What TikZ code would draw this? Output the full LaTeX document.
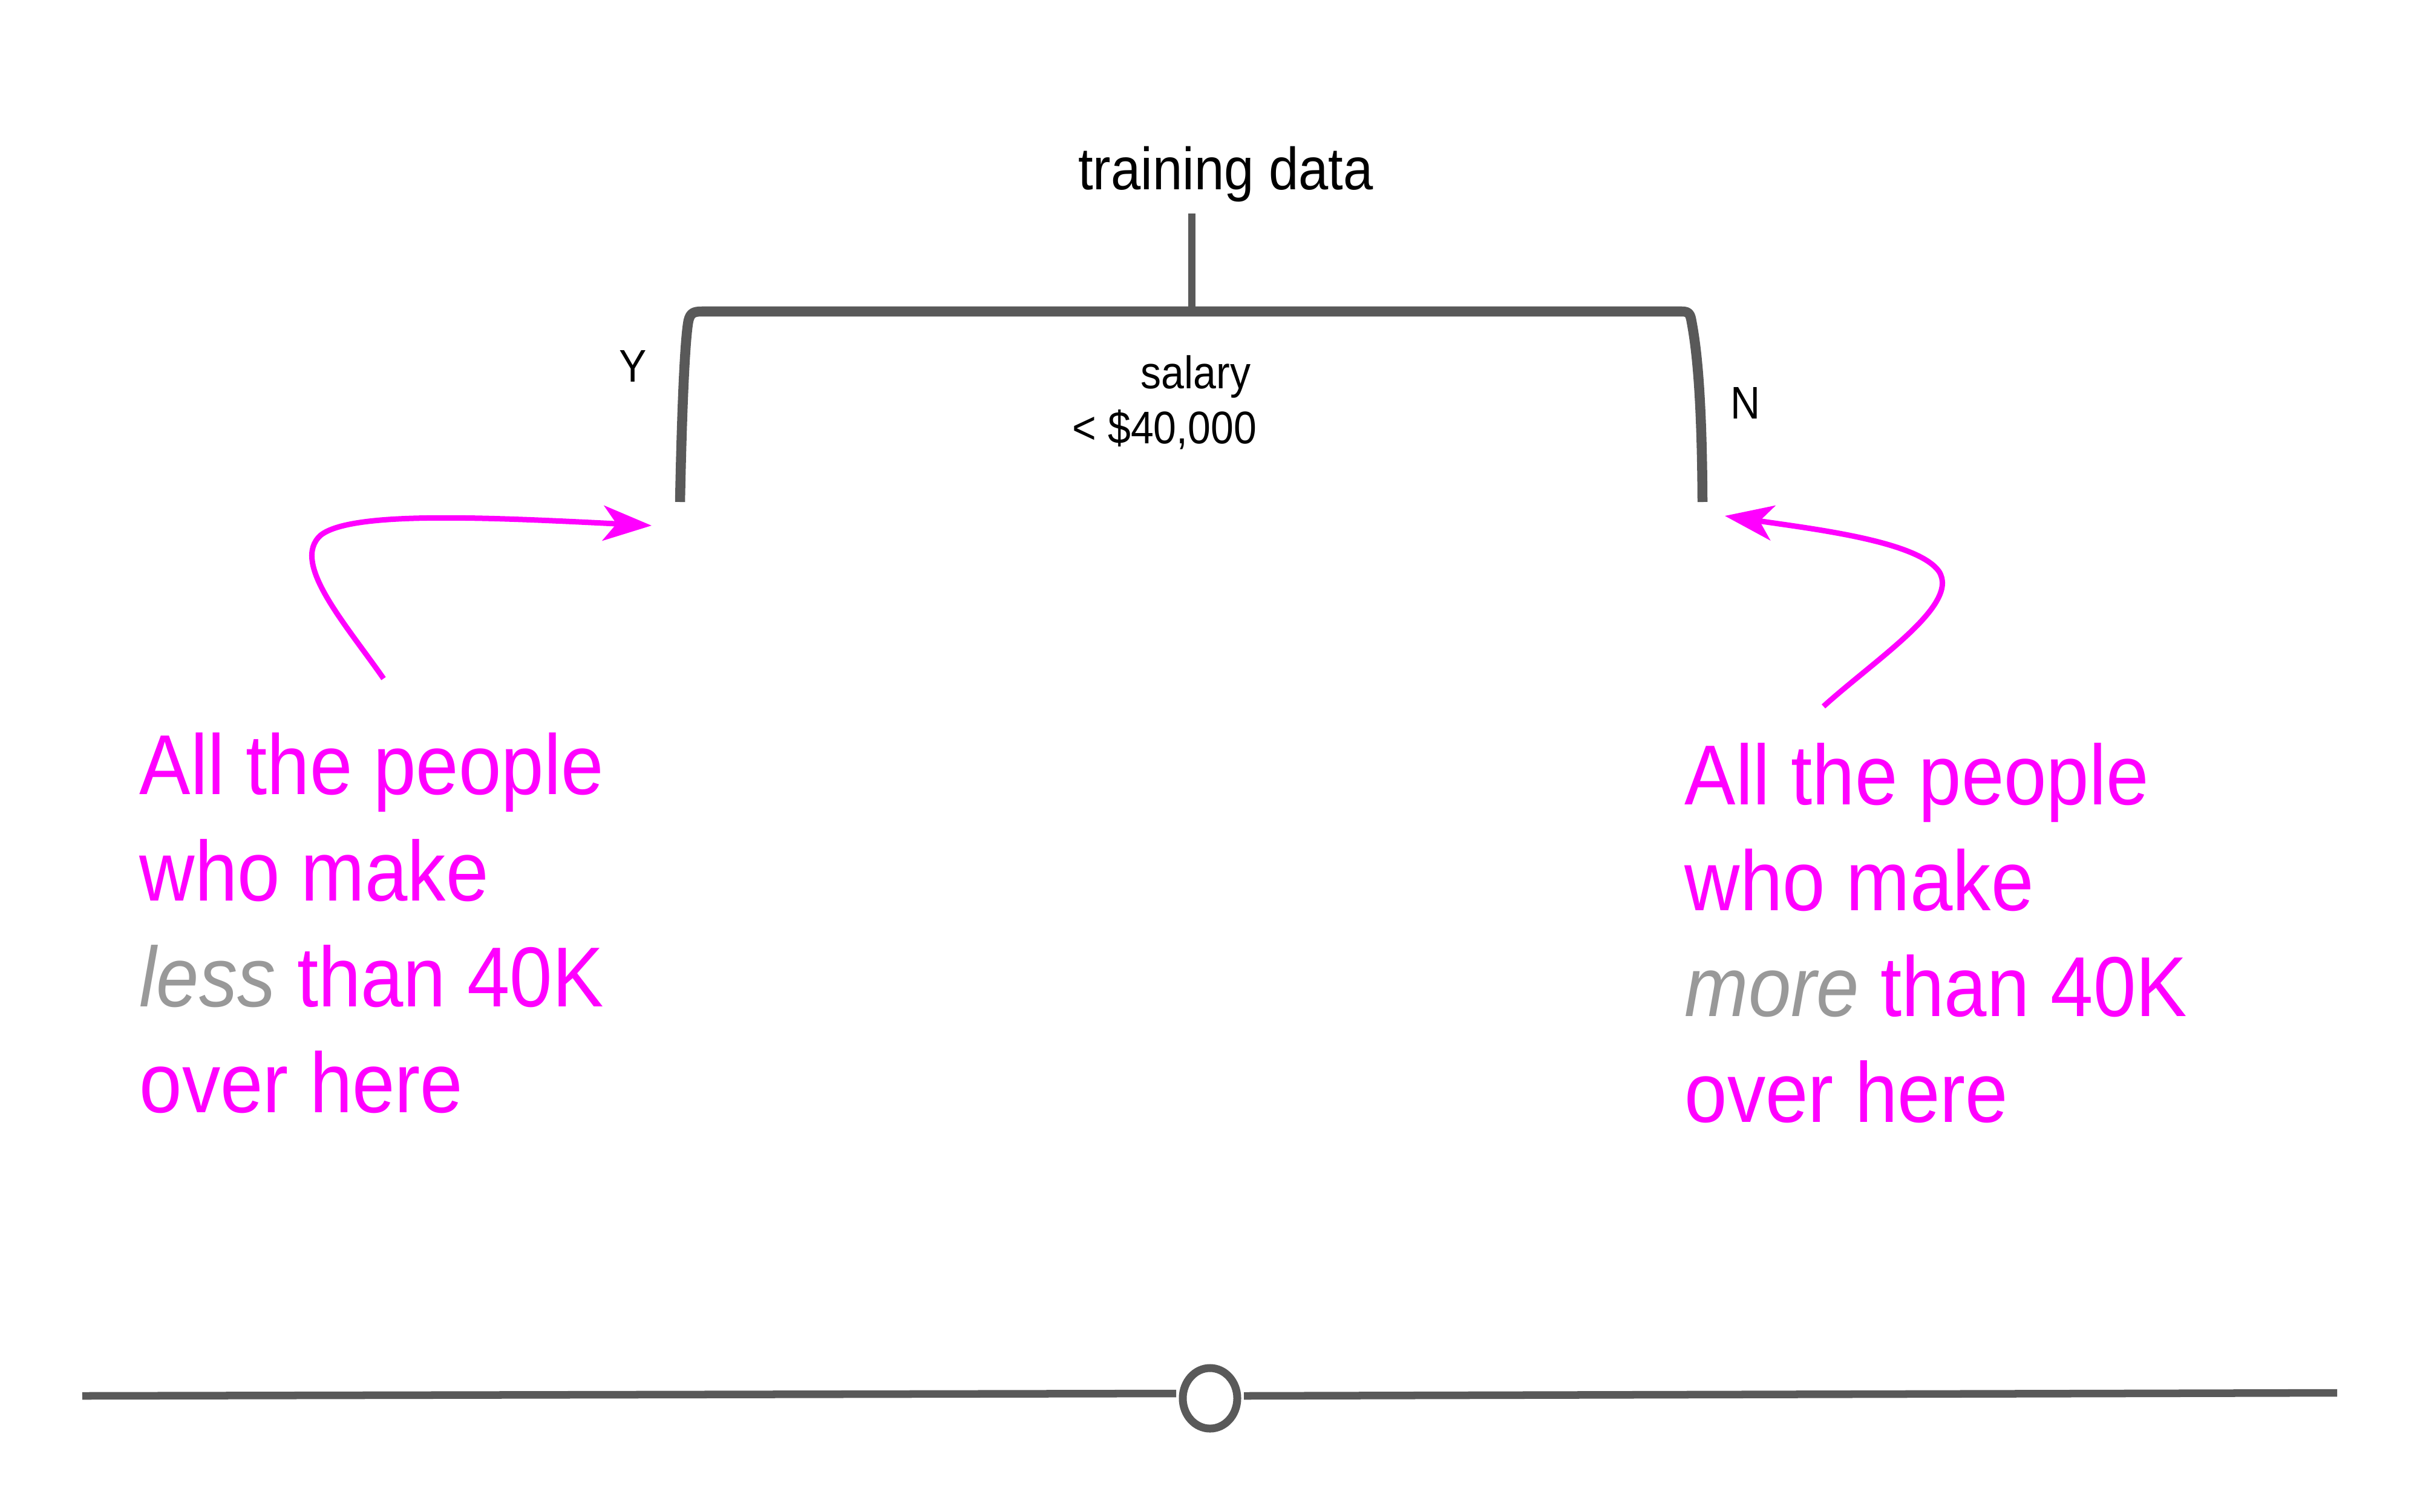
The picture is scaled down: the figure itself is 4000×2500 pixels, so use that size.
\documentclass[tikz,border=0pt]{standalone}
\usepackage{fontspec}
\setmainfont{Liberation Sans}[FakeStretch=0.9]
\usetikzlibrary{arrows.meta,shapes.geometric}
\definecolor{treegray}{HTML}{595959}
\definecolor{hotpink}{HTML}{FF00FF}
\definecolor{softgray}{HTML}{999999}
\tikzset{
  treeline/.style={draw=treegray, line cap=butt},
  smalllabel/.style={inner sep=0pt, font=\fontsize{21.5}{26}\selectfont, text=black},
  titlelabel/.style={inner sep=0pt, font=\fontsize{28}{34}\selectfont, text=black},
  pinktext/.style={inner sep=0pt, anchor=base west, font=\fontsize{40}{50}\selectfont, text=hotpink},
  pinkarrow/.style={draw=hotpink, line width=0.09cm, -{Stealth[length=0.8cm, width=0.58cm, inset=0.22cm]}},
}
\begin{document}
\begin{tikzpicture}[x=0.01cm, y=-0.01cm]
\useasboundingbox (0,0) rectangle (4000,2500);

% title and tree
\node[titlelabel, anchor=base] (title) at (2026,314) {training data};
\coordinate (stemtop) at (1970,353);
\coordinate (stembot) at (1970,515);
\draw[treeline, line width=0.127cm] (stemtop) -- (stembot);

\coordinate (lbot) at (1124,830);
\coordinate (rbot) at (2814,830);
\draw[treeline, line width=0.165cm, line join=round]
  (lbot) .. controls (1127,680) and (1132,560) .. (1138,530)
  .. controls (1141,518) and (1146,515) .. (1160,515)
  -- (2780,515) .. controls (2792,515) and (2794,520) .. (2796,532)
  .. controls (2803,570) and (2813,640) .. (rbot);

\node[smalllabel, anchor=base] (ylab) at (1046,631) {Y};
\node[smalllabel, anchor=base] (nlab) at (2885,692) {N};
\node[smalllabel, anchor=base east] (sal1) at (2068,642) {salary};
\node[smalllabel, anchor=base east] (sal2) at (2078,733) {< \$40,000};

% left annotation
\node[pinktext] (l1) at (230,1313) {All the people};
\node[pinktext] (l2) at (230,1489) {who make};
\node[pinktext] (l3) at (230,1664) {\textit{\color{softgray}less} than 40K};
\node[pinktext] (l4) at (230,1839) {over here};
\coordinate (lstart) at (634,1122);
\coordinate (ltip) at (1077,869);
\draw[pinkarrow] (lstart) .. controls (570,1030) and (480,930) .. (530,885)
  .. controls (580,845) and (800,855) .. (ltip);

% right annotation
\node[pinktext] (r1) at (2784,1330) {All the people};
\node[pinktext] (r2) at (2784,1505) {who make};
\node[pinktext] (r3) at (2784,1680) {\textit{\color{softgray}more} than 40K};
\node[pinktext] (r4) at (2784,1855) {over here};
\coordinate (rstart) at (3014,1168);
\coordinate (rtip) at (2851,853);
\draw[pinkarrow] (rstart) .. controls (3100,1090) and (3240,1000) .. (3205,945)
  .. controls (3170,895) and (3000,875) .. (rtip);

% bottom axis with circle
\node[ellipse, draw=treegray, line width=0.13cm, minimum width=0.9cm, minimum height=1.0cm, inner sep=0pt] (knob) at (2000,2312) {};
\coordinate (axl) at (136,2308);
\coordinate (axlend) at (1944,2304);
\coordinate (axrstart) at (2056,2308);
\coordinate (axr) at (3863,2303);
\draw[treeline, line width=0.125cm] (axl) -- (axlend);
\draw[treeline, line width=0.125cm] (axrstart) -- (axr);
\end{tikzpicture}
\end{document}
